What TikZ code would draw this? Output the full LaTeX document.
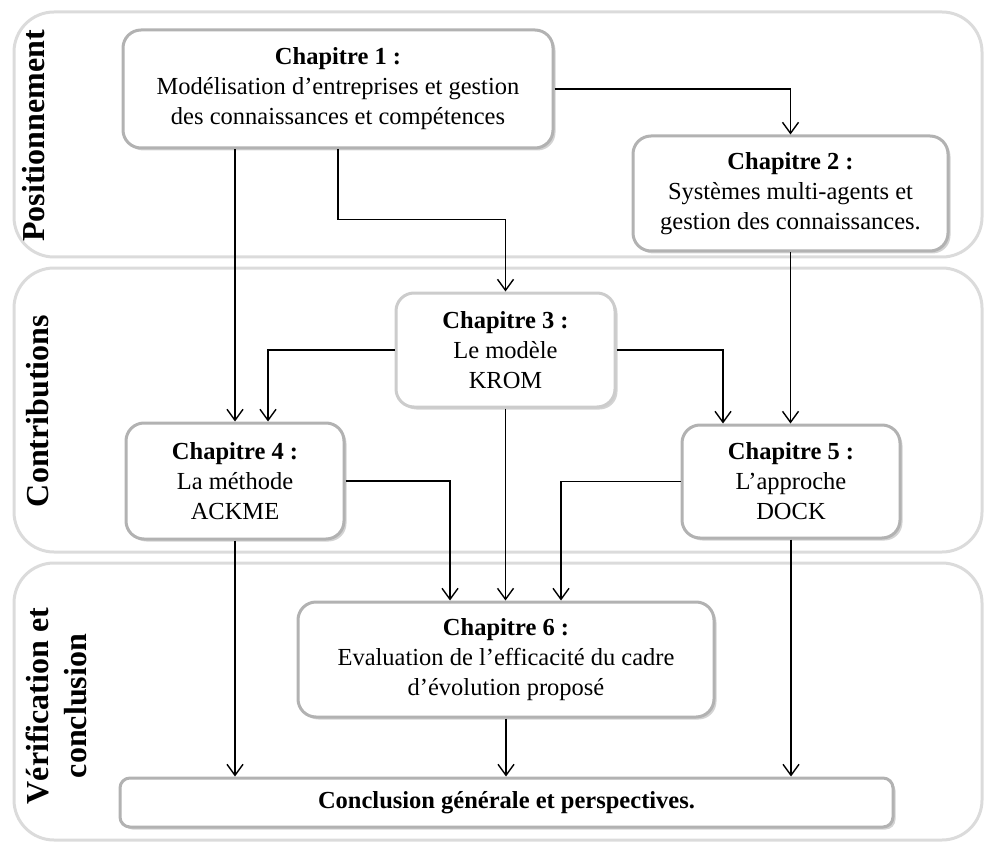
\documentclass[tikz,border=0pt]{standalone}
\usepackage{fontspec}
\setmainfont{Liberation Serif}
\usetikzlibrary{arrows.meta,shadows}

\begin{document}
\begin{tikzpicture}[
		x=1pt,
		y=-1pt,
		font=\fontsize{24.5}{30}\selectfont,
		>={Straight Barb[length=11pt,width=16pt]},
		box/.style={draw=gray!60,line width=3pt,rounded corners=18pt,align=center,inner sep=0pt,fill=white,
			drop shadow={shadow xshift=2.5pt,shadow yshift=-2.5pt,opacity=0.35,fill=gray}},
		lightbox/.style={box,draw=gray!40},
		flow/.style={->,line width=1.4pt},
		group/.style={draw=gray!28,line width=3pt,rounded corners=40pt},
		part/.style={font=\fontsize{32}{38}\selectfont\bfseries,rotate=90,align=center}
		]
		\useasboundingbox (0,0) rectangle (987,842);
		
		% =====================================================
		% Parts
		% =====================================================
		\draw[group] (14,12) rectangle (982,257);
		\draw[group] (14,268) rectangle (982,552);
		\draw[group] (14,563) rectangle (982,840);
		
		\node[part] (pos) at (34,136) {Positionnement};
		\node[part] (contrib) at (38,411) {Contributions};
		\node[part] (verif) at (56,706) {Vérification et\\conclusion};
		
		% =====================================================
		% Chapters
		% =====================================================
		\node[box,minimum width=430pt,minimum height=118pt] (ch1) at (338,89)
		{\textbf{Chapitre 1 :}\\Modélisation d’entreprises et gestion\\des connaissances et compétences};
		
		\node[box,minimum width=315pt,minimum height=115pt] (ch2) at (790.5,193.5)
		{\textbf{Chapitre 2 :}\\Systèmes multi-agents et\\gestion des connaissances.};
		
		\node[lightbox,minimum width=219pt,minimum height=114pt] (ch3) at (505.5,350)
		{\textbf{Chapitre 3 :}\\Le modèle\\KROM};
		
		\node[box,minimum width=218pt,minimum height=116pt] (ch4) at (235,481)
		{\textbf{Chapitre 4 :}\\La méthode\\ACKME};
		
		\node[box,minimum width=218pt,minimum height=113pt] (ch5) at (791,481.5)
		{\textbf{Chapitre 5 :}\\L’approche\\DOCK};
		
		\node[box,minimum width=416pt,minimum height=115pt] (ch6) at (506,659.5)
		{\textbf{Chapitre 6 :}\\Evaluation de l’efficacité du cadre\\d’évolution proposé};
		
		\node[box,rounded corners=10pt,minimum width=773pt,minimum height=49pt] (concl) at (506.5,802.5)
		{\textbf{Conclusion générale et perspectives.}};
		
		% =====================================================
		% Links
		% =====================================================
		\draw[flow] (ch1.east) -| (ch2.north);
		\draw[flow] (ch1.south -| ch4.north) -- (ch4.north);
		\draw[flow] (ch1.south) -- ++(0,70) -| (ch3.north);
		\draw[flow] (ch2.south) -- (ch2.south |- ch5.north);
		
		\draw[flow] (ch3.west) -| ([xshift=33pt]ch4.north);
		\draw[flow] (ch3.east) -| ([xshift=-68pt]ch5.north);
		\draw[flow] (ch3.south) -- (ch3.south |- ch6.north);
		
		\draw[flow] (ch4.east) -| ([xshift=-56pt]ch6.north);
		\draw[flow] (ch5.west) -| ([xshift=55pt]ch6.north);
		
		\draw[flow] (ch4.south) -- (ch4.south |- concl.north);
		\draw[flow] (ch6.south) -- (ch6.south |- concl.north);
		\draw[flow] (ch5.south) -- (ch5.south |- concl.north);
		
	\end{tikzpicture}
\end{document}
